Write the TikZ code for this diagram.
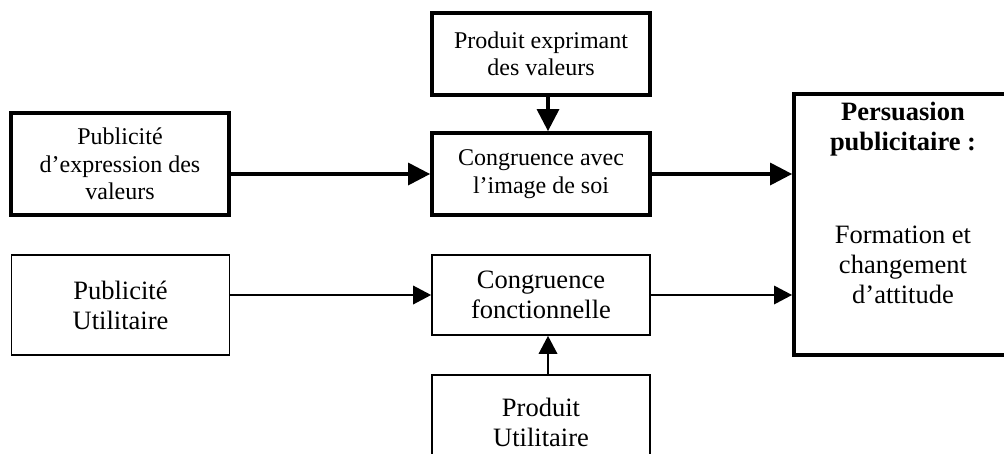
\documentclass[tikz,border=0pt]{standalone}
\usepackage{fontspec}
\setmainfont{Liberation Serif}
\usetikzlibrary{positioning}
\usetikzlibrary{calc}
\usetikzlibrary{arrows.meta}

\begin{document}
\begin{tikzpicture}[x=1pt,y=-1pt,
	thickbox/.style={draw,line width=4pt,align=center,inner sep=0pt,minimum width=218pt,minimum height=82pt,font=\fontsize{24}{27.5}\selectfont},
	thinbox/.style={draw,line width=1.8pt,align=center,inner sep=0pt,minimum width=218pt,minimum height=80pt,font=\fontsize{26.5}{30}\selectfont},
	thickarrow/.style={line width=4pt,-{Triangle[length=22pt,width=23pt,line width=0pt]}},
	thinarrow/.style={line width=1.8pt,-{Triangle[length=18pt,width=19pt,line width=0pt]}}]
	\useasboundingbox (0,0) rectangle (1004,453);
	\clip (0,0) rectangle (1004,453);
	
	% Values route
	\node[thickbox,minimum height=102pt] (valpub) at (120,164) {Publicité\\d’expression des\\valeurs};
	\node[thickbox] (valprod) at (541,54) {Produit exprimant\\des valeurs};
	\node[thickbox] (selfcong) at (541,174) {Congruence avec\\l’image de soi};
	
	% Utilitarian route
	\node[thinbox,minimum height=100pt] (utilpub) at (120.5,305) {Publicité\\Utilitaire};
	\node[thinbox] (funccong) at (541,295) {Congruence\\fonctionnelle};
	\node[thinbox,minimum height=95pt] (utilprod) at (541,422.5) {Produit\\Utilitaire};
	
	% Outcome
	\node[thickbox,minimum height=261pt] (persu) at (903,224.5) {};
	\node[below=10pt of persu.north,inner sep=0pt,align=center,font=\fontsize{26.5}{30}\selectfont] (persutext) {\textbf{Persuasion}\\\textbf{publicitaire :}\\[63pt]Formation et\\changement\\d’attitude};
	
	\draw[thickarrow] (valpub.east |- selfcong.west) -- (selfcong.west);
	\draw[thickarrow] ([xshift=7pt]valprod.south) -- ([xshift=7pt]selfcong.north);
	\draw[thickarrow] (selfcong.east) -- (selfcong.east -| persu.west);
	\draw[thinarrow] (utilpub.east |- funccong.west) -- (funccong.west);
	\draw[thinarrow] (funccong.east) -- (funccong.east -| persu.west);
	\draw[thinarrow] ([xshift=7pt]utilprod.north) -- ([xshift=7pt]funccong.south);
\end{tikzpicture}
\end{document}
